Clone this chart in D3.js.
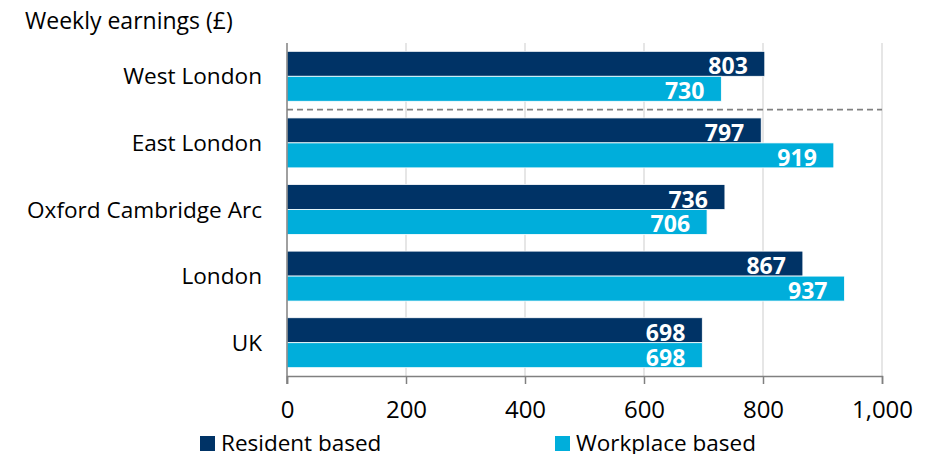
<!DOCTYPE html>
<html><head><meta charset="utf-8">
<script src="https://cdn.jsdelivr.net/npm/d3@7"></script>
<style>body{margin:0;background:#fff;} svg{display:block;font-family:"Open Sans",sans-serif;}</style>
</head><body><svg id="c" width="943" height="454"></svg>
<script>
const categories = ["West London","East London","Oxford Cambridge Arc","London","UK"];
const resident = [803,797,736,867,698];
const workplace = [730,919,706,937,698];
const seriesNames = ["Resident based","Workplace based"];
const xTicks = [0,200,400,600,800,1000];
const colors = ["#003366","#00AEDB"];

const svg = d3.select("#c");
const x = d3.scaleLinear().domain([0,1000]).range([287,882]);
const y = d3.scaleBand().domain(categories).range([43,376]).paddingInner(0.25).paddingOuter(0.125);
const sub = d3.scaleBand().domain([0,1]).range([0,y.bandwidth()]);

// gridlines
svg.append("g").selectAll("line").data(xTicks.slice(1)).join("line")
  .attr("x1",d=>x(d)).attr("x2",d=>x(d)).attr("y1",43).attr("y2",376)
  .attr("stroke","#d9d9d9").attr("stroke-width",1.3);

// dashed separator between West and East London
const sepY = (y("West London")+y.bandwidth()+y("East London"))/2;
svg.append("line").attr("x1",x(0)).attr("x2",x(1000)).attr("y1",sepY).attr("y2",sepY)
  .attr("stroke","#808080").attr("stroke-width",1.8).attr("stroke-dasharray","6,4");

// bars
const data = categories.map((c,i)=>({c, vals:[resident[i],workplace[i]]}));
const g = svg.append("g");
data.forEach(d=>{
  d.vals.forEach((v,j)=>{
    const yy = y(d.c)+sub(j);
    g.append("rect").attr("x",x(0)).attr("y",yy).attr("width",x(v)-x(0)).attr("height",sub.bandwidth())
      .attr("fill",colors[j]).attr("stroke","#fff").attr("stroke-width",0.8);
    g.append("text").attr("x",x(v)-17).attr("y",yy+sub.bandwidth()-2)
      .attr("text-anchor","end").attr("fill","#fff").attr("font-weight","bold")
      .attr("font-size","23px").text(v);
  });
});

// x axis
const xa = svg.append("g").attr("transform","translate(0,376)")
  .call(d3.axisBottom(x).tickValues(xTicks).tickSize(8).tickFormat(d3.format(",")));
xa.select(".domain").attr("stroke","#808080").attr("stroke-width",1.5);
xa.selectAll(".tick line").attr("stroke","#808080").attr("stroke-width",1.5);
xa.selectAll(".tick text").attr("font-size","24px").attr("fill","#000").attr("y",42).attr("dy","0").attr("font-family","'Open Sans',sans-serif");

// y axis line
svg.append("line").attr("x1",x(0)).attr("x2",x(0)).attr("y1",43).attr("y2",384)
  .attr("stroke","#808080").attr("stroke-width",1.5);

// category labels
svg.append("g").selectAll("text").data(categories).join("text")
  .attr("x",262).attr("y",d=>y(d)+y.bandwidth()/2+8).attr("text-anchor","end")
  .attr("font-size","22.6px").attr("fill","#000").text(d=>d);

// title
svg.append("text").attr("x",25).attr("y",29).attr("font-size","23px").attr("fill","#000").text("Weekly earnings (£)");

// legend
const legX = [200,555];
seriesNames.forEach((n,i)=>{
  svg.append("rect").attr("x",legX[i]).attr("y",436).attr("width",15).attr("height",15).attr("fill",colors[i]);
  svg.append("text").attr("x",legX[i]+21).attr("y",451).attr("font-size","22.5px").attr("fill","#000").text(n);
});
</script></body></html>
